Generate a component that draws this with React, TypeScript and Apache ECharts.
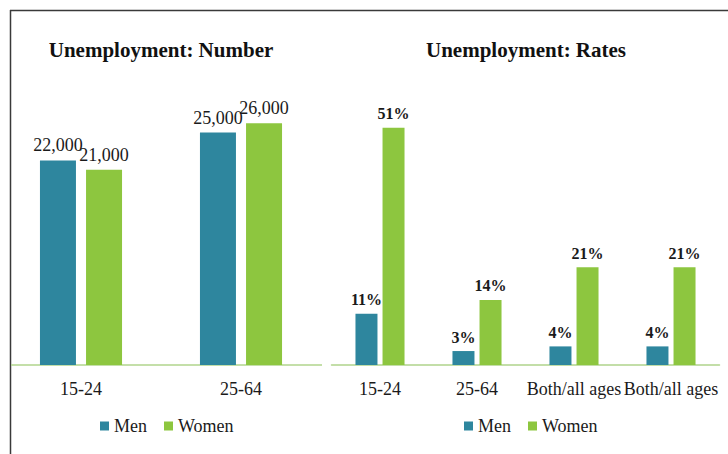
import React, { useEffect, useRef } from "react";
import * as echarts from "echarts";

const numberCategories = ["15-24", "25-64"];
const numberMen = [22000, 25000];
const numberWomen = [21000, 26000];

const rateCategories = ["15-24", "25-64", "Both/all ages", "Both/all ages"];
const rateMen = [11, 3, 4, 4];
const rateWomen = [51, 14, 21, 21];

const seriesNames = ["Men", "Women"];
const titles = ["Unemployment: Number", "Unemployment: Rates"];

const MEN = "#2e869e";
const WOMEN = "#8dc63f";
const AXIS = "#b0d48c";
const FONT = "Liberation Serif";

export default function App() {
  const ref = useRef<HTMLDivElement>(null);
  useEffect(() => {
    document.body.style.margin = "0";
    const chart = echarts.init(ref.current!, null, { renderer: "svg" });
    const labelBase = { show: true, position: "top", distance: 6, fontFamily: FONT, color: "#1a1a1a" };
    const legendBase = {
      data: seriesNames, top: 412, itemWidth: 9, itemHeight: 9, itemGap: 17,
      icon: "rect", textStyle: { fontFamily: FONT, fontSize: 18, color: "#1a1a1a" },
    };
    chart.setOption({
      animation: false,
      textStyle: { fontFamily: FONT },
      grid: [
        { left: 1, width: 320, top: 86, height: 279 },
        { left: 331.5, width: 388, top: 86, height: 279 },
      ],
      xAxis: [
        {
          type: "category", gridIndex: 0, data: numberCategories,
          axisLine: { show: false }, axisTick: { show: false },
          axisLabel: { fontFamily: FONT, fontSize: 18, color: "#1a1a1a", margin: 15, interval: 0 },
        },
        {
          type: "category", gridIndex: 1, data: rateCategories,
          axisLine: { show: true, lineStyle: { color: AXIS, width: 1.5 } }, axisTick: { show: false },
          axisLabel: { fontFamily: FONT, fontSize: 18, color: "#1a1a1a", margin: 15, interval: 0 },
        },
      ],
      yAxis: [
        { type: "value", gridIndex: 0, min: 0, max: 30000, show: false, splitLine: { show: false } },
        { type: "value", gridIndex: 1, min: 0, max: 60, show: false, splitLine: { show: false } },
      ],
      legend: [
        { ...legendBase, left: 95 },
        { ...legendBase, left: 459 },
      ],
      series: [
        {
          name: seriesNames[0], type: "bar", xAxisIndex: 0, yAxisIndex: 0, data: numberMen,
          barWidth: 36, barGap: "28%", itemStyle: { color: MEN },
          label: { ...labelBase, fontSize: 18, formatter: (p: any) => p.value.toLocaleString("en-US") },
        },
        {
          name: seriesNames[1], type: "bar", xAxisIndex: 0, yAxisIndex: 0, data: numberWomen,
          barWidth: 36, barGap: "28%", itemStyle: { color: WOMEN },
          label: { ...labelBase, fontSize: 18, formatter: (p: any) => p.value.toLocaleString("en-US") },
        },
        {
          name: seriesNames[0], type: "bar", xAxisIndex: 1, yAxisIndex: 1, data: rateMen,
          barWidth: 22, barGap: "23%", itemStyle: { color: MEN },
          label: { ...labelBase, fontSize: 16, fontWeight: "bold", formatter: "{c}%" },
        },
        {
          name: seriesNames[1], type: "bar", xAxisIndex: 1, yAxisIndex: 1, data: rateWomen,
          barWidth: 22, barGap: "23%", itemStyle: { color: WOMEN },
          label: { ...labelBase, fontSize: 16, fontWeight: "bold", formatter: "{c}%" },
        },
      ],
      graphic: [
        { type: "line", shape: { x1: 10, y1: 10.5, x2: 728, y2: 10.5 }, style: { stroke: "#3a3a3a", lineWidth: 1.5 } },
        { type: "line", shape: { x1: 10.5, y1: 10, x2: 10.5, y2: 454 }, style: { stroke: "#3a3a3a", lineWidth: 1.5 } },
        { type: "line", shape: { x1: 11, y1: 365, x2: 322, y2: 365 }, style: { stroke: AXIS, lineWidth: 1.5 } },
        {
          type: "text", x: 161, y: 50,
          style: { text: titles[0], fontFamily: FONT, fontSize: 21, fontWeight: "bold", fill: "#111", align: "center", verticalAlign: "middle" },
        },
        {
          type: "text", x: 526, y: 50,
          style: { text: titles[1], fontFamily: FONT, fontSize: 21, fontWeight: "bold", fill: "#111", align: "center", verticalAlign: "middle" },
        },
      ],
    });
    return () => chart.dispose();
  }, []);
  return <div ref={ref} style={{ width: 728, height: 454 }} />;
}
